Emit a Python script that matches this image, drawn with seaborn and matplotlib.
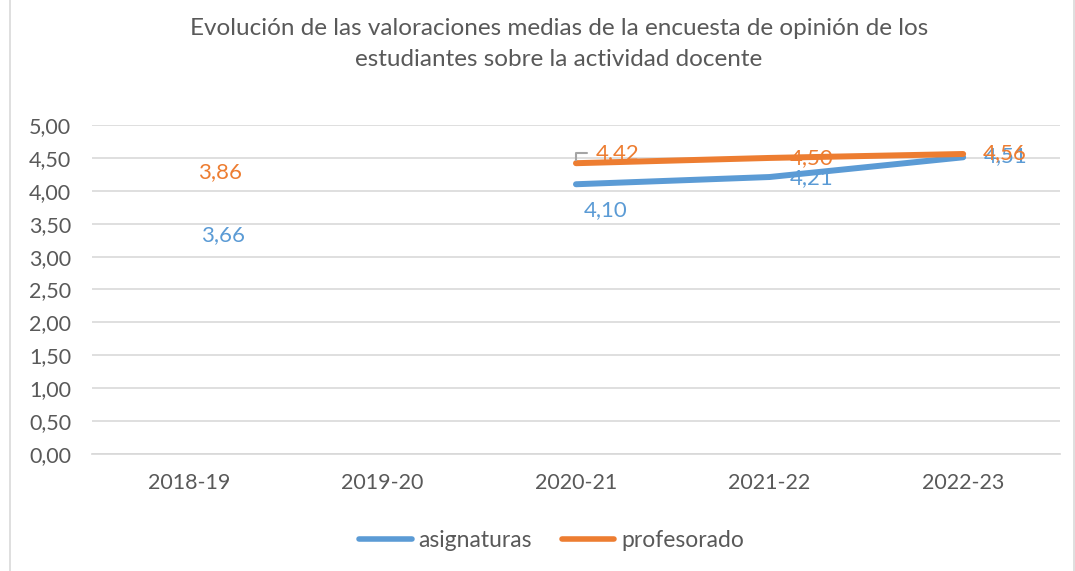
import matplotlib
matplotlib.use("Agg")
import matplotlib.pyplot as plt
import matplotlib.patches as mpatches
import numpy as np
import pandas as pd
import seaborn as sns

# datos
cursos = ["2018-19", "2019-20", "2020-21", "2021-22", "2022-23"]
asignaturas = [3.66, np.nan, 4.10, 4.21, 4.51]
profesorado = [3.86, np.nan, 4.42, 4.50, 4.56]
titulo = "Evolución de las valoraciones medias de la encuesta de opinión de los\nestudiantes sobre la actividad docente"

azul = "#5B9BD5"
naranja = "#ED7D31"
gris_txt = "#595959"

sns.set_theme(style="white")
plt.rcParams["font.family"] = ["Lato", "DejaVu Sans"]

fig = plt.figure(figsize=(10.75, 5.71), dpi=100)
ax = fig.add_axes([0.0856, 0.205, 0.9004, 0.576])

df = pd.DataFrame({"x": range(len(cursos)), "asignaturas": asignaturas, "profesorado": profesorado})
largo = df.melt(id_vars="x", var_name="serie", value_name="valor").dropna()
# the 2018-19 points are isolated (no neighbour) so Excel draws no line there
largo = largo[largo["x"] >= 2]

sns.lineplot(data=largo, x="x", y="valor", hue="serie", palette=[azul, naranja],
             hue_order=["asignaturas", "profesorado"], linewidth=4.3,
             solid_capstyle="round", ax=ax, legend=False)

ax.set_xlim(-0.5, 4.5)
ax.set_ylim(0, 5.0)
ax.set_yticks(np.arange(0, 5.01, 0.5))
ax.set_yticklabels([f"{v:.2f}".replace(".", ",") for v in np.arange(0, 5.01, 0.5)])
ax.set_xticks(range(len(cursos)))
ax.set_xticklabels(cursos)
ax.tick_params(axis="both", colors=gris_txt, labelsize=15.5, length=0)
ax.tick_params(axis="y", pad=15)
ax.tick_params(axis="x", pad=14)
ax.set_xlabel("")
ax.set_ylabel("")
ax.yaxis.grid(True, color="#D9D9D9", linewidth=1.2)
ax.set_axisbelow(True)
for s in ax.spines.values():
    s.set_visible(False)
ax.spines["bottom"].set_visible(True)
ax.spines["bottom"].set_color("#D9D9D9")

def fmt(v):
    return f"{v:.2f}".replace(".", ",")

# data labels, offsets in pixels as Excel placed them
offs_a = [(34, -22), None, (30, -26), (42, -1), (42, 1)]
offs_p = [(31, 28), None, (42, 10), (42, 0), (42, 1)]
for i in range(len(cursos)):
    if offs_a[i] is not None:
        ax.annotate(fmt(asignaturas[i]), (i, asignaturas[i]), xytext=offs_a[i],
                    textcoords="offset pixels", ha="center", va="center",
                    color=azul, fontsize=16)
    if offs_p[i] is not None:
        ax.annotate(fmt(profesorado[i]), (i, profesorado[i]), xytext=offs_p[i],
                    textcoords="offset pixels", ha="center", va="center",
                    color=naranja, fontsize=16)

# small leader line at 2020-21
ax.annotate("", (2, 4.42), xytext=(14, 10), textcoords="offset pixels",
            arrowprops=dict(arrowstyle="-", color="#A5A5A5", lw=1.5,
                            connectionstyle="angle,angleA=0,angleB=90,rad=0"))

fig.suptitle(titulo, x=0.52, y=0.968, fontsize=17.5, color=gris_txt, linespacing=1.55)

handles = [plt.Line2D([], [], color=azul, lw=4, solid_capstyle="round"),
           plt.Line2D([], [], color=naranja, lw=4, solid_capstyle="round")]
fig.legend(handles, ["asignaturas", "profesorado"], loc="center", ncol=2,
           bbox_to_anchor=(0.513, 0.054), frameon=False, fontsize=16.5,
           labelcolor=gris_txt, handlelength=2.3, handletextpad=0.3, columnspacing=1.3)

fig.patches.append(mpatches.Rectangle((0.009, -0.01), 0.99, 1.02, transform=fig.transFigure,
                                      fill=False, edgecolor="#D9D9D9", linewidth=1.2))

fig.savefig("out.png", dpi=100)
